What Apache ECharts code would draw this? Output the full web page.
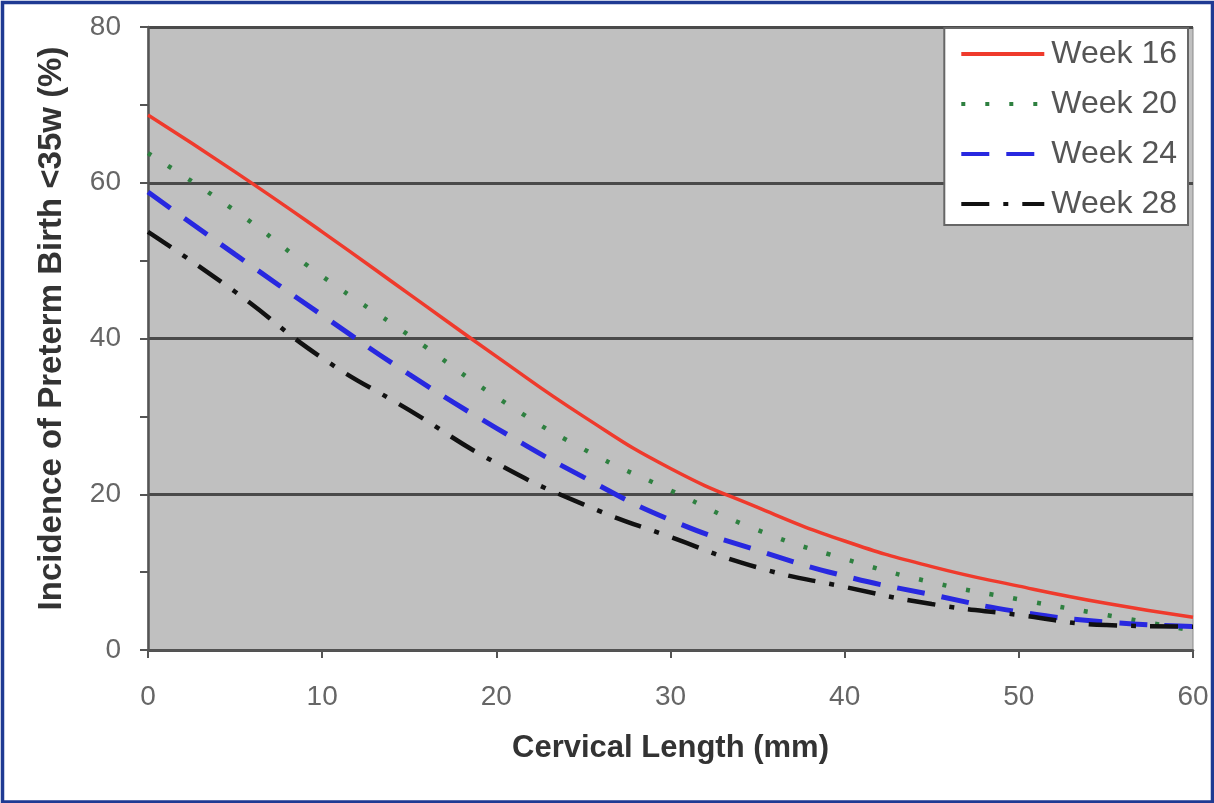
<!DOCTYPE html>
<html>
<head>
<meta charset="utf-8">
<script src="https://cdn.jsdelivr.net/npm/echarts@6/dist/echarts.min.js"></script>
<style>
html,body{margin:0;padding:0;background:#fff;}
#c{width:1214px;height:803px;}
</style>
</head>
<body>
<div id="c"></div>
<script>
const cervicalLength = [0, 5, 10, 15, 20, 25, 30, 35, 40, 45, 50, 55, 60];
const week16 = [68.7, 61.4, 53.7, 45.7, 37.7, 30.0, 23.3, 18.3, 14.0, 10.7, 8.2, 6.0, 4.2];
const week20 = [63.8, 56.4, 48.0, 40.4, 32.5, 25.8, 20.5, 15.4, 11.7, 8.7, 6.5, 4.5, 2.5];
const week24 = [58.8, 50.8, 43.0, 35.4, 28.5, 22.2, 16.7, 12.8, 9.5, 7.1, 4.9, 3.6, 3.0];
const week28 = [53.7, 46.0, 37.5, 30.8, 24.0, 18.7, 14.5, 10.6, 8.1, 5.9, 4.5, 3.2, 3.0];
const seriesNames = ['Week 16', 'Week 20', 'Week 24', 'Week 28'];
const xTitle = 'Cervical Length (mm)';
const yTitle = 'Incidence of Preterm Birth <35w (%)';

const pairs = arr => cervicalLength.map((x, i) => [x, arr[i]]);
const FONT = '"Liberation Sans", Arial, sans-serif';

const chart = echarts.init(document.getElementById('c'));
chart.setOption({
  animation: false,
  backgroundColor: '#ffffff',
  textStyle: { fontFamily: FONT },
  graphic: [{
    type: 'rect', left: 0, top: 0, z: 100, silent: true,
    shape: { x: 2, y: 1.5, width: 1210, height: 799.5 },
    style: { fill: 'none', stroke: '#1f3a93', lineWidth: 3.5 }
  }],
  grid: {
    left: 148, right: 21, top: 27, bottom: 153,
    show: true, backgroundColor: '#c0c0c0', borderColor: '#8a8a8a', borderWidth: 1
  },
  legend: {
    right: 26, top: 28,
    orient: 'vertical',
    backgroundColor: '#ffffff',
    borderColor: '#666', borderWidth: 2,
    padding: [10, 11, 5, 15],
    itemWidth: 83, itemHeight: 14, itemGap: 18,
    itemStyle: { opacity: 0 },
    lineStyle: { width: 4 },
    textStyle: { fontSize: 32, color: '#555', fontFamily: FONT, padding: [0, 0, 0, 2] },
    data: seriesNames
  },
  xAxis: {
    type: 'value', min: 0, max: 60, interval: 10,
    name: xTitle, nameLocation: 'middle', nameGap: 83,
    nameTextStyle: { fontSize: 31, fontWeight: 'bold', color: '#333', fontFamily: FONT },
    axisLine: { show: true, lineStyle: { color: '#555', width: 2.5 } },
    axisTick: { show: true, length: 8, lineStyle: { color: '#555', width: 2 } },
    axisLabel: { fontSize: 28, color: '#666', margin: 33, fontFamily: FONT },
    splitLine: { show: false }
  },
  yAxis: {
    type: 'value', min: 0, max: 80, interval: 20,
    name: yTitle, nameLocation: 'middle', nameGap: 80,
    nameTextStyle: { fontSize: 33, fontWeight: 'bold', color: '#333', fontFamily: FONT, padding: [0, 0, 0, 20] },
    axisLine: { show: true, lineStyle: { color: '#555', width: 2.5 } },
    axisTick: { show: true, length: 8, lineStyle: { color: '#555', width: 2 } },
    minorTick: { show: true, splitNumber: 2, length: 8, lineStyle: { color: '#555', width: 2 } },
    axisLabel: { fontSize: 28, color: '#666', margin: 27, fontFamily: FONT },
    splitLine: { show: true, lineStyle: { color: '#4a4a4a', width: 3 } }
  },
  series: [
    { name: seriesNames[0], type: 'line', smooth: true, symbol: 'none', data: pairs(week16),
      lineStyle: { color: '#ef3a2c', width: 3.5, type: 'solid' }, itemStyle: { color: '#ef3a2c' } },
    { name: seriesNames[1], type: 'line', smooth: true, symbol: 'none', data: pairs(week20),
      lineStyle: { color: '#2e8040', width: 4.5, type: [4, 20] }, itemStyle: { color: '#2e8040' } },
    { name: seriesNames[2], type: 'line', smooth: true, symbol: 'none', data: pairs(week24),
      lineStyle: { color: '#2828e0', width: 5, type: [28, 17] }, itemStyle: { color: '#2828e0' } },
    { name: seriesNames[3], type: 'line', smooth: true, symbol: 'none', data: pairs(week28),
      lineStyle: { color: '#111111', width: 4.5, type: [28, 14, 5, 14] }, itemStyle: { color: '#111111' } }
  ]
});
</script>
</body>
</html>
